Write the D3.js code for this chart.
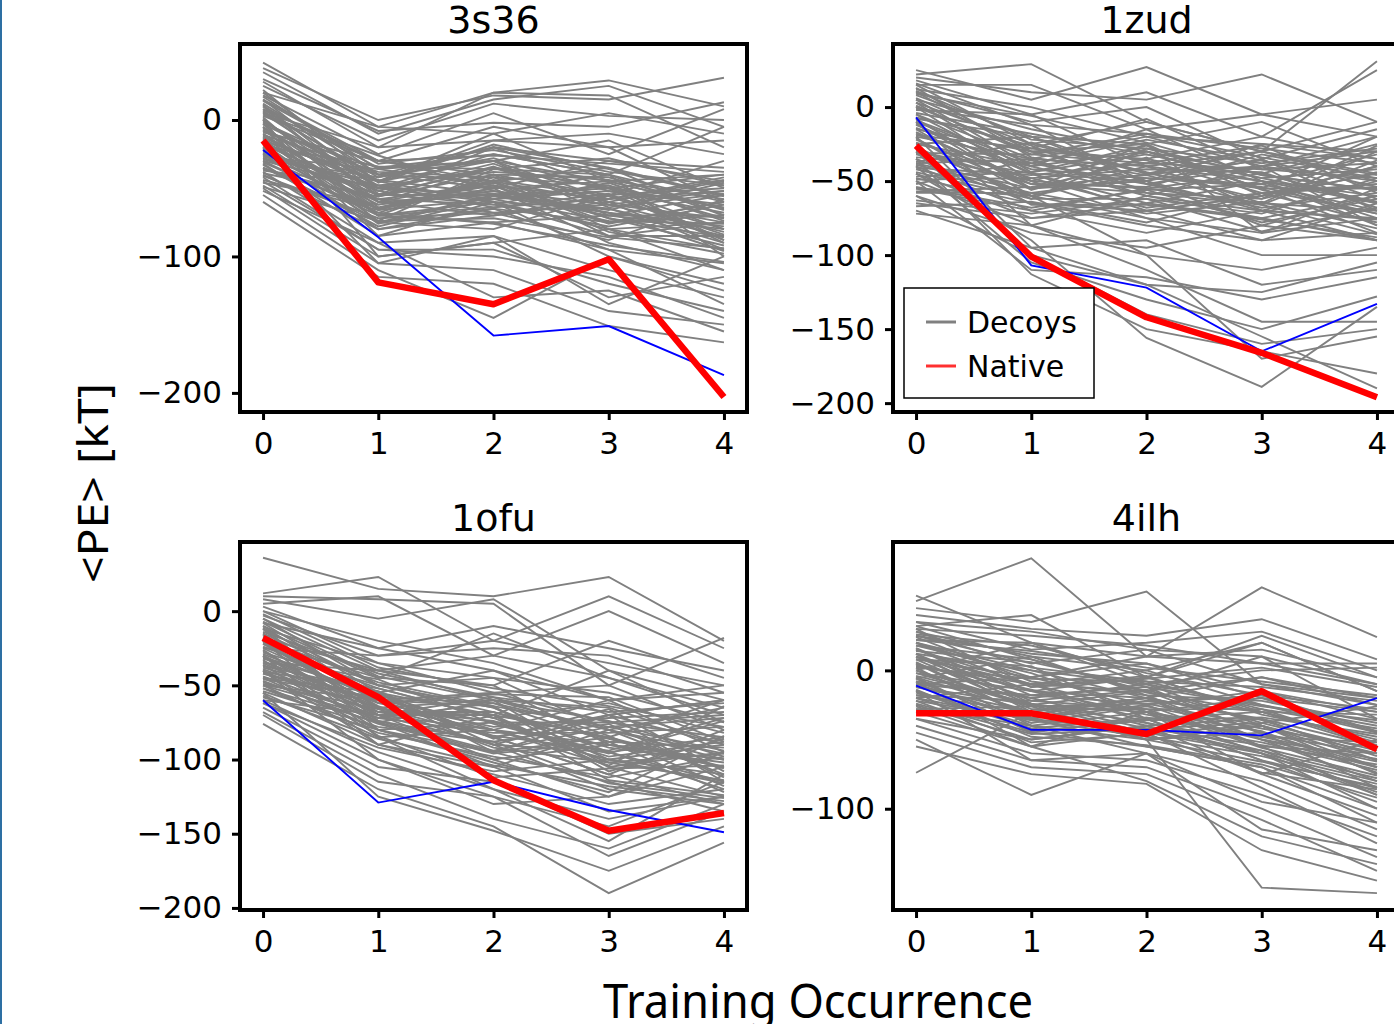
<!DOCTYPE html>
<html>
<head>
<meta charset="utf-8">
<script src="https://cdn.jsdelivr.net/npm/d3@7"></script>
<style>
  html, body { margin: 0; padding: 0; background: #fff; }
  svg { display: block; }
</style>
</head>
<body>
<div id="chart"></div>
<script>
// Training occurrence index on the x axis
const occurrences = [0, 1, 2, 3, 4];
const xTicks = [0, 1, 2, 3, 4];

const panelNames = ["3s36", "1zud", "1ofu", "4ilh"];

// y tick labels per panel
const yTicks3s36 = [0, -100, -200];
const yTicks1zud = [0, -50, -100, -150, -200];
const yTicks1ofu = [0, -50, -100, -150, -200];
const yTicks4ilh = [0, -100];

// native structure (red, thick)
const native3s36 = [-15, -119, -135, -102, -203];
const native1zud = [-26, -101, -142, -166, -196];
const native1ofu = [-18, -58, -114, -148, -136];
const native4ilh = [-31, -31, -46, -15, -57];

// thin blue reference line
const blue3s36 = [-22, -86, -158, -151, -187];
const blue1zud = [-7, -107, -122, -165, -133];
const blue1ofu = [-60, -129, -115, -134, -149];
const blue4ilh = [-11, -43, -43, -47, -20];

// decoys (gray), one row per decoy
const decoys3s36 = [
  [42, -5, 20, 29, 10], [38, 0, 18, 15, 31], [35, -10, 15, 25, -5], [30, -8, -2, -5, 13],
  [25, -15, 12, 3, 0], [28, -20, 20, 18, -20], [20, -5, -10, 5, -10], [18, -25, 5, -25, 8],
  [15, -30, -5, -20, -15], [12, -40, -20, -30, -35], [10, -35, -30, -15, -50], [8, -45, -10, -45, -40],
  [5, -50, -25, -40, -60], [3, -30, -40, -55, -30], [0, -55, -20, -35, -70], [-2, -40, -45, -60, -45],
  [-5, -60, -35, -50, -80], [-8, -45, -30, -70, -55], [-10, -65, -50, -45, -65], [-12, -50, -60, -65, -90],
  [-15, -70, -40, -80, -75], [-18, -55, -55, -40, -100], [-20, -75, -65, -75, -60], [-22, -60, -45, -85, -85],
  [-25, -80, -70, -60, -95], [-28, -65, -50, -90, -110], [-30, -70, -75, -70, -70], [-32, -85, -60, -100, -120],
  [-35, -75, -80, -55, -80], [-38, -90, -85, -110, -130], [-40, -80, -65, -95, -105], [-45, -95, -95, -120, -140],
  [-48, -100, -90, -130, -115], [-50, -105, -110, -140, -150], [-55, -110, -145, -100, -125], [-60, -115, -120, -151, -163],
  [-52, -90, -130, -125, -155], [-42, -95, -100, -115, -145], [-20, -105, -85, -135, -100], [-5, -85, -75, -95, -135],
  [0, -100, -90, -80, -110], [10, -60, -55, -50, -90], [15, -50, -35, -60, -75], [20, -40, -50, -30, -45],
  [5, -20, -15, -10, -25], [-8, -35, -25, -40, -5], [-15, -45, -15, -20, -60], [-25, -55, -35, -50, -40],
  [-30, -50, -55, -65, -85], [-35, -65, -45, -75, -70], [2, -70, -60, -80, -95], [-12, -60, -70, -55, -50],
  [-18, -40, -30, -45, -65], [8, -30, -45, -35, -55], [-3, -75, -55, -70, -80], [-28, -45, -60, -85, -75],
  [14, -32, -22, -38, -48], [6, -42, -28, -52, -62], [-1, -48, -38, -44, -58], [-6, -52, -32, -62, -72],
  [-11, -38, -42, -48, -88], [-16, -58, -48, -58, -52], [-21, -62, -52, -68, -78], [-26, -48, -58, -52, -68],
  [-31, -68, -42, -72, -92], [-36, -58, -62, -78, -62], [-41, -72, -68, -62, -82], [-46, -62, -48, -82, -98],
  [-33, -78, -58, -48, -72], [-23, -52, -68, -88, -58], [-13, -66, -44, -56, -84], [-3, -44, -54, -66, -46],
  [7, -56, -40, -42, -66], [17, -36, -30, -58, -42], [22, -46, -18, -36, -56], [-9, -30, -26, -32, -38],
  [-19, -34, -36, -28, -48], [-29, -42, -20, -50, -64], [-39, -56, -34, -64, -54], [-44, -66, -58, -74, -76],
  [-49, -74, -72, -86, -94], [1, -64, -46, -72, -86], [11, -54, -62, -46, -74], [-7, -70, -64, -58, -44],
  [-17, -76, -56, -68, -96], [-27, -36, -48, -76, -60], [-37, -48, -64, -54, -88], [4, -26, -52, -62, -52],
  [-14, -74, -36, -40, -70], [-24, -68, -76, -92, -104]
];
const decoys1zud = [
  [25, 5, 27, -5, -20], [22, 29, -10, -30, 31], [20, 10, 5, 22, -10], [18, -5, 10, -20, 25],
  [15, 15, -15, -5, 5], [12, 0, -20, -25, -30], [10, -10, 0, -35, -15], [8, -20, -25, -10, -40],
  [5, -15, -30, -45, -25], [3, -25, -10, -30, -50], [0, -30, -35, -20, -35], [-2, -5, -40, -50, -60],
  [-5, -35, -20, -40, -20], [-8, -20, -45, -30, -45], [-10, -40, -30, -55, -55], [-12, -45, -50, -35, -70],
  [-15, -30, -25, -60, -40], [-18, -50, -55, -45, -65], [-20, -35, -40, -65, -30], [-22, -55, -35, -50, -75],
  [-25, -40, -60, -70, -50], [-28, -60, -45, -40, -80], [-30, -45, -65, -75, -60], [-32, -50, -30, -55, -85],
  [-35, -65, -70, -60, -45], [-38, -55, -50, -80, -90], [-40, -70, -55, -65, -70], [-42, -60, -75, -85, -55],
  [-45, -75, -65, -50, -80], [-48, -65, -80, -90, -65], [-50, -80, -60, -75, -90], [-55, -70, -85, -70, -75],
  [-60, -85, -95, -80, -60], [-65, -75, -70, -90, -85], [-72, -80, -100, -110, -95], [-70, -95, -90, -120, -110],
  [-60, -100, -120, -125, -105], [-50, -110, -115, -130, -115], [-40, -105, -130, -150, -128], [-30, -100, -140, -160, -150],
  [-35, -113, -150, -165, -180], [-45, -90, -156, -189, -135], [-20, -95, -120, -155, -190], [-10, -80, -110, -145, -145],
  [-55, -60, -100, -170, -155], [0, -50, -75, -100, -100], [10, -30, -50, -70, -90], [-5, -45, -70, -60, -40],
  [-15, -60, -40, -30, -10], [5, -40, -15, -50, -65], [-25, -20, -50, -25, -35], [15, -25, -45, -55, -20],
  [-8, -55, -25, -85, -75], [-38, -35, -60, -40, -50],
  [16, -12, -18, -28, -38], [11, -22, -28, -38, -28], [6, -28, -8, -42, -48], [1, -32, -38, -26, -58],
  [-4, -18, -32, -48, -42], [-9, -38, -22, -36, -62], [-14, -42, -48, -52, -32], [-19, -28, -36, -58, -52],
  [-24, -48, -42, -44, -68], [-29, -52, -58, -62, -44], [-34, -38, -52, -68, -58], [-39, -58, -48, -54, -72],
  [-44, -62, -62, -72, -48], [-49, -48, -68, -58, -78], [-54, -68, -56, -78, -62], [-58, -58, -72, -64, -82],
  [-63, -72, -62, -84, -68], [-27, -62, -28, -46, -56], [-17, -52, -54, -32, -46], [-7, -26, -58, -66, -36],
  [3, -44, -26, -56, -72], [13, -34, -46, -36, -54], [-37, -24, -44, -62, -26], [-47, -44, -32, -48, -64],
  [-57, -54, -46, -66, -86], [-67, -64, -78, -58, -54], [-21, -66, -66, -76, -88], [-11, -56, -34, -70, -76],
  [-1, -12, -52, -40, -30], [9, -6, -24, -46, -56], [-31, -32, -18, -34, -48], [-41, -46, -38, -42, -38],
  [-52, -36, -56, -52, -70]
];
const decoys1ofu = [
  [36, 15, 10, 23, -20], [12, 23, -20, 10, -25], [10, 8, 5, -50, -18], [8, -5, 8, -40, -60],
  [5, 10, -30, 0, -35], [3, -25, -10, -25, -40], [0, -20, -35, -60, -50], [-3, -30, -25, -30, -55],
  [-5, -40, -50, -20, -45], [-8, -25, -40, -70, -60], [-10, -45, -15, -45, -70], [-12, -35, -55, -50, -80],
  [-15, -50, -45, -80, -65], [-18, -40, -60, -65, -90], [-20, -55, -70, -40, -75], [-22, -45, -50, -90, -100],
  [-25, -60, -75, -75, -85], [-28, -50, -65, -100, -110], [-30, -65, -80, -60, -95], [-32, -55, -90, -95, -120],
  [-35, -70, -70, -85, -105], [-38, -60, -85, -110, -80], [-40, -75, -95, -70, -115], [-42, -65, -60, -105, -125],
  [-45, -80, -100, -90, -100], [-48, -70, -90, -120, -130], [-50, -85, -80, -100, -90], [-52, -75, -105, -80, -110],
  [-55, -90, -110, -130, -120], [-58, -80, -95, -115, -135], [-60, -95, -120, -140, -125], [-62, -100, -130, -125, -105],
  [-65, -105, -115, -150, -140], [-68, -110, -140, -160, -130], [-70, -115, -125, -145, -115], [-76, -120, -145, -190, -156],
  [-55, -125, -148, -175, -145], [-40, -100, -125, -165, -135], [-30, -90, -105, -135, -125], [-20, -85, -120, -155, -110],
  [-15, -70, -100, -125, -95], [-10, -60, -85, -110, -130], [-5, -50, -65, -95, -85], [0, -35, -45, -55, -75],
  [-25, -30, -20, -35, -50], [-35, -40, -30, -45, -65], [-45, -55, -40, -60, -55], [-50, -60, -55, -75, -70],
  [-30, -75, -60, -80, -100], [-20, -65, -85, -70, -90], [-12, -80, -75, -95, -115], [-8, -55, -95, -85, -60],
  [-40, -90, -70, -105, -95], [-60, -70, -80, -90, -105],
  [-14, -42, -58, -68, -62], [-19, -48, -64, -78, -72], [-24, -52, -72, -62, -82], [-29, -58, -62, -88, -92],
  [-34, -62, -78, -72, -68], [-39, -68, -68, -92, -102], [-44, -72, -82, -82, -78], [-49, -66, -74, -98, -88],
  [-54, -78, -88, -76, -112], [-22, -64, -92, -102, -96], [-27, -70, -58, -84, -118], [-32, -46, -76, -96, -74],
  [-37, -54, -86, -66, -108], [-42, -60, -64, -108, -86], [-47, -76, -96, -88, -122], [-17, -56, -80, -104, -64],
  [-12, -50, -68, -86, -106], [-7, -44, -60, -74, -98], [-2, -38, -52, -64, -78], [-52, -82, -98, -112, -98],
  [-57, -86, -104, -118, -128], [-62, -92, -108, -100, -116], [-33, -80, -102, -122, -84], [-26, -74, -94, -78, -94],
  [-21, -68, -70, -114, -124], [-46, -58, -84, -94, -72], [-36, -84, -112, -106, -104], [-16, -62, -56, -58, -88],
  [-41, -52, -72, -102, -114], [-11, -74, -88, -116, -126], [-31, -66, -90, -70, -60], [-50, -72, -62, -80, -96]
];
const decoys4ilh = [
  [54, 20, 10, 60, 24], [50, 81, 10, 5, -10], [45, 35, 57, -10, -20], [40, 30, 25, 37, 8],
  [35, 15, 20, 28, 0], [32, 40, -5, 25, -5], [30, 25, 18, 5, 5], [28, 10, 0, 20, -15],
  [25, 5, 15, -10, -25], [22, 20, -10, 0, 2], [20, -5, 5, -20, -30], [18, 8, -15, 10, -10],
  [15, -10, 0, -25, -40], [12, 0, -20, -5, -20], [10, -15, -5, -30, -50], [8, -5, -25, -15, -35],
  [5, -20, -10, -40, -60], [3, -10, -30, -20, -45], [0, -25, -15, -45, -70], [-2, -15, -35, -30, -55],
  [-5, -30, -20, -50, -80], [-8, -20, -40, -35, -65], [-10, -35, -25, -55, -90], [-12, -25, -45, -40, -75],
  [-15, -40, -30, -60, -100], [-18, -30, -50, -45, -85], [-20, -45, -35, -65, -95], [-22, -35, -55, -70, -110],
  [-25, -50, -40, -75, -105], [-28, -40, -60, -80, -115], [-30, -55, -45, -85, -125], [-35, -60, -65, -90, -120],
  [-40, -65, -70, -100, -135], [-45, -70, -75, -108, -145], [-50, -90, -60, -115, -130], [-55, -75, -82, -130, -152],
  [-74, -30, -50, -157, -161], [-26, -55, -80, -120, -140], [-15, -65, -60, -95, -110], [-5, -45, -55, -70, -100],
  [5, -35, -45, -60, -90], [10, -25, -30, -50, -70], [15, -15, -20, -35, -55], [20, 0, -10, -25, -45],
  [25, 12, 5, -15, -30], [-10, -5, 10, 15, -5], [0, 20, -5, 20, -15], [-20, -10, -15, -5, -25],
  [35, 28, 15, 10, -35], [12, -30, -20, -55, -60], [-35, -50, -40, -60, -80], [2, -40, -50, -40, -65],
  [8, 3, -35, -65, -85], [-8, -55, -30, -75, -50],
  [28, 2, -8, -12, -22], [24, -8, -18, -22, -38], [20, -12, -4, -32, -48], [16, -18, -24, -18, -28],
  [12, -22, -14, -38, -58], [8, -28, -28, -28, -42], [4, -14, -32, -48, -52], [0, -32, -20, -36, -62],
  [-4, -24, -38, -52, -72], [-8, -38, -26, -42, -56], [-12, -30, -44, -58, -78], [-16, -42, -34, -48, -66],
  [-20, -36, -48, -62, -82], [-24, -46, -42, -54, -68], [18, -2, -30, -44, -74], [14, 6, -12, -26, -36],
  [10, -10, -38, -58, -88], [6, -34, -22, -30, -32], [2, -6, -8, -28, -54], [-2, -26, -50, -66, -84],
  [-6, -44, -36, -34, -46], [-10, -18, -12, -46, -60], [-14, -48, -54, -68, -92], [-18, -22, -28, -56, -76],
  [22, 14, 2, -8, -18], [26, 18, -2, -18, -44], [32, 8, -16, -30, -52], [30, -12, -6, 2, -12],
  [-22, -52, -46, -74, -86], [-6, 10, -18, -50, -64], [16, -24, -42, -38, -26], [-28, -26, -24, -40, -70]
];

const width = 1394;
const height = 1024;

// panel layout (frame boxes) and y extents
const panels = [
  { name: panelNames[0], left: 240, top: 44, yDomain: [-214, 55.7], yTicks: yTicks3s36,
    decoys: decoys3s36, native: native3s36, blue: blue3s36 },
  { name: panelNames[1], left: 893, top: 44, yDomain: [-206, 42.6], yTicks: yTicks1zud,
    decoys: decoys1zud, native: native1zud, blue: blue1zud, legend: true },
  { name: panelNames[2], left: 240, top: 542, yDomain: [-201.4, 46.6], yTicks: yTicks1ofu,
    decoys: decoys1ofu, native: native1ofu, blue: blue1ofu },
  { name: panelNames[3], left: 893, top: 542, yDomain: [-173.2, 92.8], yTicks: yTicks4ilh,
    decoys: decoys4ilh, native: native4ilh, blue: blue4ilh }
];
const pw = 507, ph = 368;

const svg = d3.select("#chart").append("svg")
  .attr("width", width)
  .attr("height", height);

svg.append("rect").attr("width", width).attr("height", height).attr("fill", "#fff");
// thin slide border on the left
svg.append("rect").attr("x", 0).attr("y", 0).attr("width", 2).attr("height", height).attr("fill", "#2d6fa3");

const tickFont = "'DejaVu Sans', sans-serif";

panels.forEach(p => {
  const g = svg.append("g").attr("transform", `translate(${p.left},${p.top})`);
  const x = d3.scaleLinear().domain([-0.2, 4.2]).range([0, pw]);
  const y = d3.scaleLinear().domain(p.yDomain).range([ph, 0]);

  const line = d3.line()
    .x((d, i) => x(occurrences[i]))
    .y(d => y(d));

  const clipId = "clip-" + p.name;
  g.append("clipPath").attr("id", clipId)
    .append("rect").attr("width", pw).attr("height", ph);

  const plot = g.append("g").attr("clip-path", `url(#${clipId})`);

  plot.selectAll("path.decoy")
    .data(p.decoys)
    .join("path")
    .attr("class", "decoy")
    .attr("d", line)
    .attr("fill", "none")
    .attr("stroke", "#808080")
    .attr("stroke-width", 1.9);

  plot.append("path")
    .attr("d", line(p.blue))
    .attr("fill", "none")
    .attr("stroke", "#0000ff")
    .attr("stroke-width", 1.9);

  plot.append("path")
    .attr("d", line(p.native))
    .attr("fill", "none")
    .attr("stroke", "#ff0000")
    .attr("stroke-width", 6.5)
    .attr("stroke-linejoin", "round");

  // x axis
  const xAxis = g.append("g")
    .attr("transform", `translate(0,${ph})`)
    .call(d3.axisBottom(x).tickValues(xTicks).tickSize(8).tickPadding(12).tickFormat(d3.format("d")));
  // y axis
  const yAxis = g.append("g")
    .call(d3.axisLeft(y).tickValues(p.yTicks).tickSize(8).tickPadding(10)
      .tickFormat(d => d < 0 ? "\u2212" + Math.abs(d) : d));

  [xAxis, yAxis].forEach(a => {
    a.select(".domain").remove();
    a.selectAll(".tick line").attr("stroke", "#000").attr("stroke-width", 3);
    a.selectAll(".tick text")
      .attr("fill", "#000")
      .style("font-family", tickFont)
      .style("font-size", "31px");
  });

  // frame
  g.append("rect")
    .attr("width", pw).attr("height", ph)
    .attr("fill", "none")
    .attr("stroke", "#000")
    .attr("stroke-width", 4);

  // title
  g.append("text")
    .attr("x", pw / 2)
    .attr("y", -11)
    .attr("text-anchor", "middle")
    .style("font-family", tickFont)
    .style("font-size", "38px")
    .text(p.name);

  if (p.legend) {
    const lg = g.append("g").attr("transform", "translate(11,244)");
    lg.append("rect")
      .attr("width", 190).attr("height", 110)
      .attr("fill", "#fff")
      .attr("stroke", "#000")
      .attr("stroke-width", 1.5);
    const items = [{ label: "Decoys", color: "#808080" }, { label: "Native", color: "#ff3030" }];
    items.forEach((it, i) => {
      const yy = 34 + i * 44;
      lg.append("line")
        .attr("x1", 22).attr("x2", 52)
        .attr("y1", yy).attr("y2", yy)
        .attr("stroke", it.color)
        .attr("stroke-width", 3);
      lg.append("text")
        .attr("x", 63).attr("y", yy + 11)
        .style("font-family", tickFont)
        .style("font-size", "30px")
        .text(it.label);
    });
  }
});

// shared axis labels
svg.append("text")
  .attr("transform", "translate(108,483) rotate(-90)")
  .attr("text-anchor", "middle")
  .attr("textLength", 200)
  .attr("lengthAdjust", "spacingAndGlyphs")
  .style("font-family", "'Noto Sans', sans-serif")
  .style("font-size", "42px")
  .text("<PE> [kT]");

svg.append("text")
  .attr("x", 818)
  .attr("y", 1018)
  .attr("text-anchor", "middle")
  .attr("textLength", 430)
  .attr("lengthAdjust", "spacingAndGlyphs")
  .style("font-family", "'Noto Sans', sans-serif")
  .style("font-size", "48px")
  .text("Training Occurrence");
</script>
</body>
</html>
